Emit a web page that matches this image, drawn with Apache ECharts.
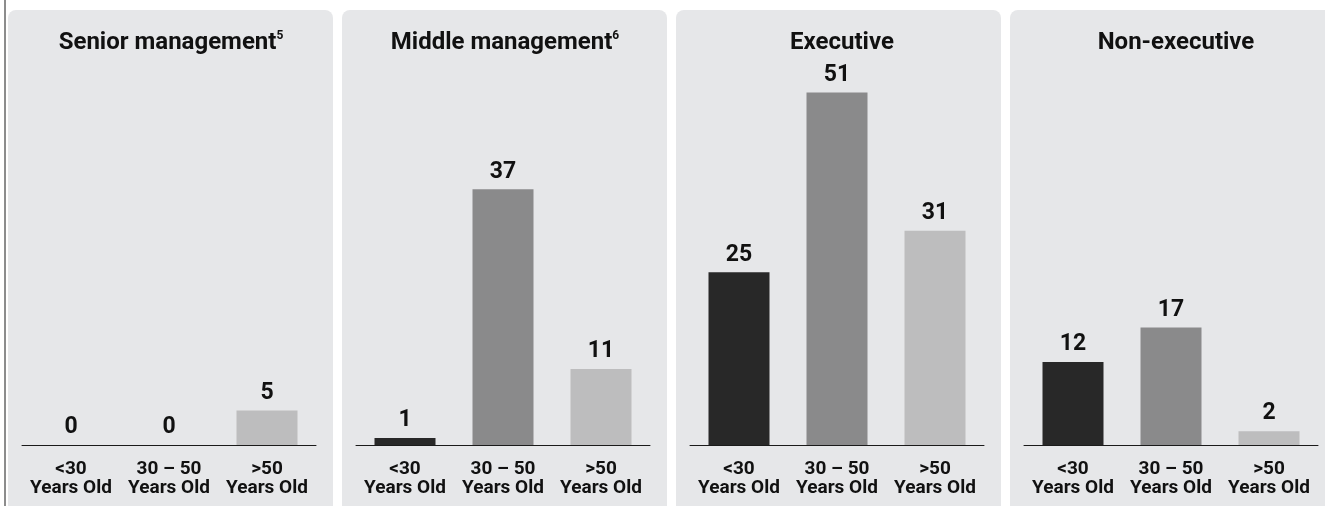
<!DOCTYPE html>
<html>
<head>
<meta charset="utf-8">
<style>
  html, body { margin: 0; padding: 0; background: #ffffff; }
  #chart { width: 1325px; height: 506px; }
</style>
<script src="https://cdn.jsdelivr.net/npm/echarts@6/dist/echarts.min.js"></script>
</head>
<body>
<div id="chart"></div>
<script>
// Employee headcount by age band, per employment level
const groups = ['Senior management', 'Middle management', 'Executive', 'Non-executive'];
const groupNotes = ['5', '6', '', ''];
const ageBands = ['<30\nYears Old', '30 – 50\nYears Old', '>50\nYears Old'];
const seniorManagement = [0, 0, 5];
const middleManagement = [1, 37, 11];
const executive = [25, 51, 31];
const nonExecutive = [12, 17, 2];
const seriesValues = [seniorManagement, middleManagement, executive, nonExecutive];

const bandColors = ['#282828', '#8a8a8b', '#bdbdbe'];
const ink = '#111111';
const panelFill = '#e6e7e9';

const panelStep = 334;
const panelX0 = 8;
const panelW = 325;
const gridInset = 14;
const gridW = 294;
const axisY = 445;
const yMax = 55;
const pxPerUnit = 6.91;
const gridTop = axisY - yMax * pxPerUnit;

const chart = echarts.init(document.getElementById('chart'), null, { renderer: 'canvas' });

const grids = [], xAxes = [], yAxes = [], series = [], titles = [], graphics = [];

groups.forEach((name, i) => {
  const px = panelX0 + i * panelStep;
  const gx = px + gridInset;

  graphics.push({
    type: 'rect', z: -10, silent: true,
    shape: { x: px, y: 10, width: panelW, height: 520, r: [8, 8, 0, 0] },
    style: { fill: panelFill }
  });

  grids.push({ left: gx, width: gridW, top: gridTop, bottom: 506 - axisY });

  xAxes.push({
    type: 'category', gridIndex: i, data: ageBands,
    axisTick: { show: false },
    axisLine: { lineStyle: { color: '#1a1a1a', width: 1 } },
    axisLabel: {
      interval: 0, margin: 15,
      color: ink, fontFamily: 'Roboto', fontWeight: 'bold', fontSize: 19, lineHeight: 19
    }
  });

  yAxes.push({
    type: 'value', gridIndex: i, min: 0, max: yMax,
    show: false, splitLine: { show: false }
  });

  series.push({
    type: 'bar', xAxisIndex: i, yAxisIndex: i,
    data: seriesValues[i], barWidth: 61,
    itemStyle: { color: p => bandColors[p.dataIndex] },
    label: {
      show: true, position: 'top', distance: 6,
      color: ink, fontFamily: 'Roboto', fontWeight: 'bold', fontSize: 23
    }
  });

  const note = groupNotes[i];
  titles.push({
    text: note ? '{t|' + name + '}{s|' + note + '}' : '{t|' + name + '}',
    left: gx + gridW / 2 - (note ? 3 : 0), top: 25, textAlign: 'center',
    textStyle: {
      rich: {
        t: { color: ink, fontFamily: 'Roboto', fontWeight: 'bold', fontSize: 24, lineHeight: 26 },
        s: { color: ink, fontFamily: 'Roboto', fontWeight: 'bold', fontSize: 12, lineHeight: 26, verticalAlign: 'top', padding: [0, 0, 12, 0] }
      }
    }
  });
});

// thin rule on the far left edge
graphics.push({
  type: 'line', silent: true,
  shape: { x1: 5, y1: 0, x2: 5, y2: 506 },
  style: { stroke: '#1a1a1a', lineWidth: 1 }
});

chart.setOption({
  animation: false,
  backgroundColor: '#ffffff',
  title: titles,
  grid: grids,
  xAxis: xAxes,
  yAxis: yAxes,
  series: series,
  graphic: graphics
});
</script>
</body>
</html>
